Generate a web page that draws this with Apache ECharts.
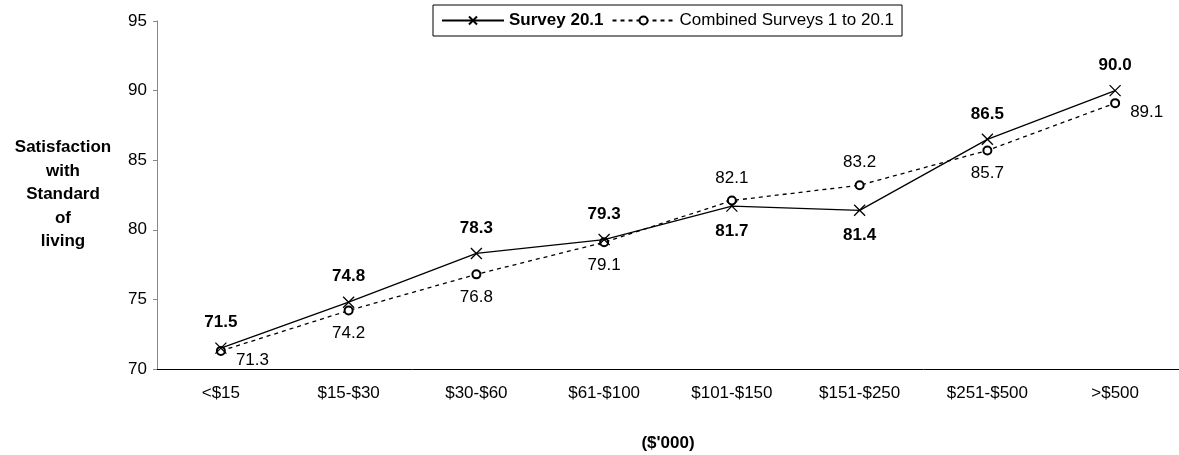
<!DOCTYPE html>
<html>
<head>
<meta charset="utf-8">
<script src="https://cdn.jsdelivr.net/npm/echarts@6/dist/echarts.min.js"></script>
<style>
  html, body { margin: 0; padding: 0; background: #fff; }
  #main { width: 1179px; height: 455px; }
</style>
</head>
<body>
<div id="main"></div>
<script>
  // income bands
  var categories = ['<$15', '$15-$30', '$30-$60', '$61-$100', '$101-$150', '$151-$250', '$251-$500', '>$500'];
  var survey = [71.5, 74.8, 78.3, 79.3, 81.7, 81.4, 86.5, 90.0];
  var combined = [71.3, 74.2, 76.8, 79.1, 82.1, 83.2, 85.7, 89.1];
  var yTicks = [70, 75, 80, 85, 90, 95];

  // where each value label sits relative to its point
  var surveyPlace = ['top', 'top', 'top', 'top', 'bottom', 'bottom', 'top', 'top'];
  var combinedPlace = ['right', 'bottom', 'bottom', 'bottom', 'top', 'top', 'bottom', 'right'];

  var font = "'Liberation Sans', Arial, sans-serif";
  var crossPath = 'path://M0,0L10,10M10,0L0,10';

  function labelFor(place, bold) {
    var l = { show: true, position: place, distance: 9, fontSize: 17, fontFamily: font, color: '#000',
              fontWeight: bold ? 'bold' : 'normal',
              formatter: function (p) { return p.value.toFixed(1); } };
    if (place == 'right') { l.distance = 10; l.offset = [0, 9]; }
    return l;
  }

  var surveyData = survey.map(function (v, i) {
    return { value: v, label: labelFor(surveyPlace[i], true) };
  });
  var combinedData = combined.map(function (v, i) {
    return { value: v, label: labelFor(combinedPlace[i], false) };
  });

  var chart = echarts.init(document.getElementById('main'));
  chart.setOption({
    animation: false,
    textStyle: { fontFamily: font },
    title: {
      text: 'Satisfaction\nwith\nStandard\nof\nliving',
      left: 58, top: 131, textAlign: 'center',
      textStyle: { fontSize: 17, fontWeight: 'bold', color: '#000', lineHeight: 23.5, fontFamily: font, align: 'center' }
    },
    legend: {
      left: 433, top: 5,
      padding: [7, 8, 7, 8],
      itemGap: 8,
      itemWidth: 62, itemHeight: 10,
      borderColor: '#000', borderWidth: 1,
      textStyle: { fontSize: 17, color: '#000', fontFamily: font },
      data: [
        { name: 'Survey 20.1', textStyle: { fontWeight: 'bold' } },
        { name: 'Combined Surveys 1 to 20.1' }
      ]
    },
    grid: { left: 157, right: 0, top: 21, bottom: 86, containLabel: false, outerBoundsMode: 'none' },
    xAxis: {
      type: 'category',
      data: categories,
      boundaryGap: true,
      name: "($'000)",
      nameLocation: 'middle',
      nameGap: 66,
      nameTextStyle: { fontSize: 17, fontWeight: 'bold', color: '#000', fontFamily: font },
      axisLine: { lineStyle: { color: '#000', width: 1 } },
      axisTick: { length: 5, lineStyle: { color: '#000' } },
      axisLabel: { margin: 16, fontSize: 17, color: '#000', fontFamily: font }
    },
    yAxis: {
      type: 'value',
      min: yTicks[0], max: yTicks[yTicks.length - 1], interval: 5,
      splitLine: { show: false },
      axisLine: { show: true, lineStyle: { color: '#888', width: 1 } },
      axisTick: { show: true, length: 4, lineStyle: { color: '#888' } },
      axisLabel: { margin: 10, fontSize: 17, color: '#000', fontFamily: font }
    },
    series: [
      {
        name: 'Combined Surveys 1 to 20.1',
        type: 'line',
        data: combinedData,
        symbol: 'emptyCircle',
        symbolSize: 8,
        lineStyle: { color: '#000', width: 1.3, type: [4, 4] },
        itemStyle: { color: '#000', borderColor: '#000', borderWidth: 1.2 },
        z: 2
      },
      {
        name: 'Survey 20.1',
        type: 'line',
        data: surveyData,
        symbol: crossPath,
        symbolSize: 11,
        lineStyle: { color: '#000', width: 1.3 },
        itemStyle: { color: 'none', borderColor: '#000', borderWidth: 1.3 },
        z: 3
      }
    ]
  });
</script>
</body>
</html>
